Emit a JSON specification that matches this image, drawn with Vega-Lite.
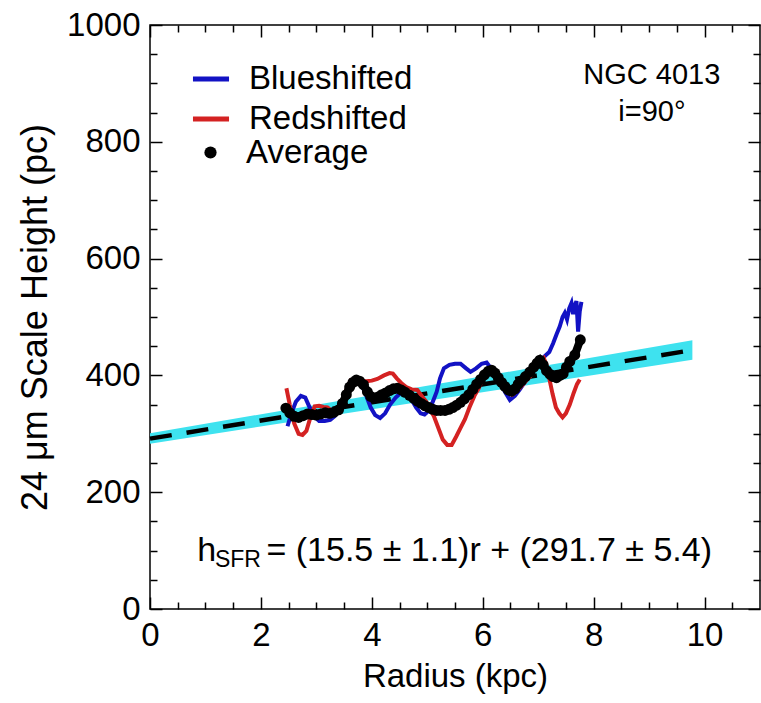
{
  "$schema": "https://vega.github.io/schema/vega-lite/v6.json",
  "width": 610,
  "height": 584,
  "autosize": "none",
  "padding": {"left": 150, "top": 25, "right": 1, "bottom": 94},
  "background": "white",
  "config": {
    "view": {"stroke": "black", "strokeWidth": 1.5},
    "font": "Liberation Sans",
    "axis": {"grid": false}
  },
  "datasets": {
    "fit": [
      {"r": 0, "h": 291.7, "lo": 283, "hi": 301},
      {"r": 9.78, "h": 443.3, "lo": 427, "hi": 460}
    ],
    "curves": [
      {"series": "Blueshifted", "r": 2.48, "h": 313}, {"series": "Blueshifted", "r": 2.55, "h": 335}, {"series": "Blueshifted", "r": 2.63, "h": 355}, {"series": "Blueshifted", "r": 2.72, "h": 365}, {"series": "Blueshifted", "r": 2.80, "h": 362}, {"series": "Blueshifted", "r": 2.88, "h": 345}, {"series": "Blueshifted", "r": 2.96, "h": 330}, {"series": "Blueshifted", "r": 3.05, "h": 322}, {"series": "Blueshifted", "r": 3.15, "h": 322}, {"series": "Blueshifted", "r": 3.25, "h": 324}, {"series": "Blueshifted", "r": 3.33, "h": 330}, {"series": "Blueshifted", "r": 3.42, "h": 345}, {"series": "Blueshifted", "r": 3.50, "h": 362}, {"series": "Blueshifted", "r": 3.58, "h": 378}, {"series": "Blueshifted", "r": 3.66, "h": 390}, {"series": "Blueshifted", "r": 3.74, "h": 392}, {"series": "Blueshifted", "r": 3.82, "h": 383}, {"series": "Blueshifted", "r": 3.90, "h": 365}, {"series": "Blueshifted", "r": 3.98, "h": 345}, {"series": "Blueshifted", "r": 4.06, "h": 332}, {"series": "Blueshifted", "r": 4.15, "h": 327}, {"series": "Blueshifted", "r": 4.24, "h": 335}, {"series": "Blueshifted", "r": 4.33, "h": 350}, {"series": "Blueshifted", "r": 4.43, "h": 362}, {"series": "Blueshifted", "r": 4.52, "h": 370}, {"series": "Blueshifted", "r": 4.62, "h": 368}, {"series": "Blueshifted", "r": 4.72, "h": 358}, {"series": "Blueshifted", "r": 4.80, "h": 345}, {"series": "Blueshifted", "r": 4.88, "h": 335}, {"series": "Blueshifted", "r": 4.95, "h": 333}, {"series": "Blueshifted", "r": 5.03, "h": 340}, {"series": "Blueshifted", "r": 5.10, "h": 355}, {"series": "Blueshifted", "r": 5.17, "h": 372}, {"series": "Blueshifted", "r": 5.23, "h": 395}, {"series": "Blueshifted", "r": 5.30, "h": 412}, {"series": "Blueshifted", "r": 5.40, "h": 418}, {"series": "Blueshifted", "r": 5.50, "h": 420}, {"series": "Blueshifted", "r": 5.60, "h": 420}, {"series": "Blueshifted", "r": 5.70, "h": 412}, {"series": "Blueshifted", "r": 5.78, "h": 406}, {"series": "Blueshifted", "r": 5.88, "h": 412}, {"series": "Blueshifted", "r": 5.98, "h": 420}, {"series": "Blueshifted", "r": 6.07, "h": 422}, {"series": "Blueshifted", "r": 6.15, "h": 412}, {"series": "Blueshifted", "r": 6.23, "h": 400}, {"series": "Blueshifted", "r": 6.31, "h": 390}, {"series": "Blueshifted", "r": 6.40, "h": 372}, {"series": "Blueshifted", "r": 6.49, "h": 358}, {"series": "Blueshifted", "r": 6.58, "h": 365}, {"series": "Blueshifted", "r": 6.67, "h": 376}, {"series": "Blueshifted", "r": 6.77, "h": 390}, {"series": "Blueshifted", "r": 6.86, "h": 402}, {"series": "Blueshifted", "r": 6.96, "h": 412}, {"series": "Blueshifted", "r": 7.05, "h": 425}, {"series": "Blueshifted", "r": 7.12, "h": 433}, {"series": "Blueshifted", "r": 7.20, "h": 440}, {"series": "Blueshifted", "r": 7.27, "h": 455}, {"series": "Blueshifted", "r": 7.33, "h": 470}, {"series": "Blueshifted", "r": 7.39, "h": 484}, {"series": "Blueshifted", "r": 7.44, "h": 500}, {"series": "Blueshifted", "r": 7.48, "h": 507}, {"series": "Blueshifted", "r": 7.52, "h": 496}, {"series": "Blueshifted", "r": 7.56, "h": 515}, {"series": "Blueshifted", "r": 7.60, "h": 524}, {"series": "Blueshifted", "r": 7.63, "h": 505}, {"series": "Blueshifted", "r": 7.66, "h": 520}, {"series": "Blueshifted", "r": 7.69, "h": 527}, {"series": "Blueshifted", "r": 7.72, "h": 475}, {"series": "Blueshifted", "r": 7.75, "h": 510}, {"series": "Blueshifted", "r": 7.78, "h": 526},
      {"series": "Redshifted", "r": 2.46, "h": 378}, {"series": "Redshifted", "r": 2.52, "h": 350}, {"series": "Redshifted", "r": 2.60, "h": 318}, {"series": "Redshifted", "r": 2.68, "h": 300}, {"series": "Redshifted", "r": 2.75, "h": 298}, {"series": "Redshifted", "r": 2.82, "h": 305}, {"series": "Redshifted", "r": 2.90, "h": 330}, {"series": "Redshifted", "r": 2.97, "h": 347}, {"series": "Redshifted", "r": 3.05, "h": 348}, {"series": "Redshifted", "r": 3.13, "h": 346}, {"series": "Redshifted", "r": 3.20, "h": 345}, {"series": "Redshifted", "r": 3.30, "h": 338}, {"series": "Redshifted", "r": 3.39, "h": 338}, {"series": "Redshifted", "r": 3.47, "h": 358}, {"series": "Redshifted", "r": 3.55, "h": 378}, {"series": "Redshifted", "r": 3.62, "h": 392}, {"series": "Redshifted", "r": 3.68, "h": 394}, {"series": "Redshifted", "r": 3.78, "h": 391}, {"series": "Redshifted", "r": 3.90, "h": 390}, {"series": "Redshifted", "r": 4.00, "h": 391}, {"series": "Redshifted", "r": 4.10, "h": 394}, {"series": "Redshifted", "r": 4.22, "h": 400}, {"series": "Redshifted", "r": 4.32, "h": 404}, {"series": "Redshifted", "r": 4.38, "h": 403}, {"series": "Redshifted", "r": 4.45, "h": 395}, {"series": "Redshifted", "r": 4.53, "h": 387}, {"series": "Redshifted", "r": 4.62, "h": 380}, {"series": "Redshifted", "r": 4.72, "h": 376}, {"series": "Redshifted", "r": 4.82, "h": 375}, {"series": "Redshifted", "r": 4.90, "h": 365}, {"series": "Redshifted", "r": 4.98, "h": 355}, {"series": "Redshifted", "r": 5.05, "h": 342}, {"series": "Redshifted", "r": 5.12, "h": 330}, {"series": "Redshifted", "r": 5.20, "h": 310}, {"series": "Redshifted", "r": 5.28, "h": 290}, {"series": "Redshifted", "r": 5.36, "h": 281}, {"series": "Redshifted", "r": 5.44, "h": 281}, {"series": "Redshifted", "r": 5.52, "h": 295}, {"series": "Redshifted", "r": 5.60, "h": 310}, {"series": "Redshifted", "r": 5.68, "h": 325}, {"series": "Redshifted", "r": 5.76, "h": 345}, {"series": "Redshifted", "r": 5.85, "h": 365}, {"series": "Redshifted", "r": 5.93, "h": 378}, {"series": "Redshifted", "r": 6.00, "h": 395}, {"series": "Redshifted", "r": 6.08, "h": 404}, {"series": "Redshifted", "r": 6.15, "h": 402}, {"series": "Redshifted", "r": 6.22, "h": 398}, {"series": "Redshifted", "r": 6.30, "h": 393}, {"series": "Redshifted", "r": 6.38, "h": 382}, {"series": "Redshifted", "r": 6.46, "h": 370}, {"series": "Redshifted", "r": 6.53, "h": 367}, {"series": "Redshifted", "r": 6.60, "h": 372}, {"series": "Redshifted", "r": 6.68, "h": 380}, {"series": "Redshifted", "r": 6.75, "h": 387}, {"series": "Redshifted", "r": 6.85, "h": 398}, {"series": "Redshifted", "r": 6.95, "h": 413}, {"series": "Redshifted", "r": 7.03, "h": 425}, {"series": "Redshifted", "r": 7.10, "h": 430}, {"series": "Redshifted", "r": 7.15, "h": 418}, {"series": "Redshifted", "r": 7.20, "h": 395}, {"series": "Redshifted", "r": 7.26, "h": 368}, {"series": "Redshifted", "r": 7.32, "h": 345}, {"series": "Redshifted", "r": 7.38, "h": 335}, {"series": "Redshifted", "r": 7.44, "h": 328}, {"series": "Redshifted", "r": 7.50, "h": 335}, {"series": "Redshifted", "r": 7.57, "h": 350}, {"series": "Redshifted", "r": 7.64, "h": 370}, {"series": "Redshifted", "r": 7.70, "h": 385}, {"series": "Redshifted", "r": 7.75, "h": 393}
    ],
    "avg": [
      {"series": "Average", "r": 2.45, "h": 344}, {"series": "Average", "r": 2.52, "h": 336}, {"series": "Average", "r": 2.60, "h": 330}, {"series": "Average", "r": 2.68, "h": 328}, {"series": "Average", "r": 2.76, "h": 331}, {"series": "Average", "r": 2.84, "h": 334}, {"series": "Average", "r": 2.92, "h": 333}, {"series": "Average", "r": 3.00, "h": 332}, {"series": "Average", "r": 3.08, "h": 334}, {"series": "Average", "r": 3.16, "h": 336}, {"series": "Average", "r": 3.24, "h": 335}, {"series": "Average", "r": 3.32, "h": 337}, {"series": "Average", "r": 3.40, "h": 341}, {"series": "Average", "r": 3.47, "h": 352}, {"series": "Average", "r": 3.54, "h": 367}, {"series": "Average", "r": 3.60, "h": 380}, {"series": "Average", "r": 3.66, "h": 388}, {"series": "Average", "r": 3.72, "h": 392}, {"series": "Average", "r": 3.78, "h": 390}, {"series": "Average", "r": 3.85, "h": 384}, {"series": "Average", "r": 3.92, "h": 372}, {"series": "Average", "r": 3.98, "h": 364}, {"series": "Average", "r": 4.04, "h": 361}, {"series": "Average", "r": 4.11, "h": 363}, {"series": "Average", "r": 4.18, "h": 367}, {"series": "Average", "r": 4.25, "h": 370}, {"series": "Average", "r": 4.32, "h": 374}, {"series": "Average", "r": 4.39, "h": 377}, {"series": "Average", "r": 4.46, "h": 378}, {"series": "Average", "r": 4.53, "h": 375}, {"series": "Average", "r": 4.60, "h": 371}, {"series": "Average", "r": 4.68, "h": 366}, {"series": "Average", "r": 4.75, "h": 361}, {"series": "Average", "r": 4.82, "h": 356}, {"series": "Average", "r": 4.89, "h": 352}, {"series": "Average", "r": 4.96, "h": 348}, {"series": "Average", "r": 5.03, "h": 345}, {"series": "Average", "r": 5.10, "h": 342}, {"series": "Average", "r": 5.17, "h": 340}, {"series": "Average", "r": 5.24, "h": 340}, {"series": "Average", "r": 5.32, "h": 340}, {"series": "Average", "r": 5.39, "h": 342}, {"series": "Average", "r": 5.46, "h": 345}, {"series": "Average", "r": 5.53, "h": 349}, {"series": "Average", "r": 5.60, "h": 354}, {"series": "Average", "r": 5.67, "h": 360}, {"series": "Average", "r": 5.75, "h": 367}, {"series": "Average", "r": 5.82, "h": 376}, {"series": "Average", "r": 5.89, "h": 385}, {"series": "Average", "r": 5.96, "h": 393}, {"series": "Average", "r": 6.03, "h": 401}, {"series": "Average", "r": 6.10, "h": 407}, {"series": "Average", "r": 6.16, "h": 409}, {"series": "Average", "r": 6.22, "h": 404}, {"series": "Average", "r": 6.28, "h": 396}, {"series": "Average", "r": 6.34, "h": 388}, {"series": "Average", "r": 6.40, "h": 381}, {"series": "Average", "r": 6.46, "h": 375}, {"series": "Average", "r": 6.52, "h": 373}, {"series": "Average", "r": 6.58, "h": 377}, {"series": "Average", "r": 6.64, "h": 385}, {"series": "Average", "r": 6.70, "h": 391}, {"series": "Average", "r": 6.77, "h": 398}, {"series": "Average", "r": 6.85, "h": 406}, {"series": "Average", "r": 6.92, "h": 414}, {"series": "Average", "r": 6.98, "h": 421}, {"series": "Average", "r": 7.03, "h": 426}, {"series": "Average", "r": 7.09, "h": 418}, {"series": "Average", "r": 7.15, "h": 408}, {"series": "Average", "r": 7.21, "h": 402}, {"series": "Average", "r": 7.27, "h": 398}, {"series": "Average", "r": 7.33, "h": 396}, {"series": "Average", "r": 7.39, "h": 400}, {"series": "Average", "r": 7.45, "h": 403}, {"series": "Average", "r": 7.51, "h": 414}, {"series": "Average", "r": 7.57, "h": 424}, {"series": "Average", "r": 7.66, "h": 435}, {"series": "Average", "r": 7.76, "h": 461}
    ],
    "labelsCenter": [
      {"text": "NGC 4013", "r": 9.05, "h": 915},
      {"text": "i=90°", "r": 9.05, "h": 851}
    ],
    "labelsLeft": [
      {"text": "h", "r": 0.85, "h": 100},
      {"text": "= (15.5 ± 1.1)r + (291.7 ± 5.4)", "r": 2.1, "h": 100}
    ],
    "labelsSub": [
      {"text": "SFR", "r": 1.17, "h": 84}
    ]
  },
  "layer": [
    {
      "data": {"name": "fit"},
      "mark": {"type": "area", "color": "#3ee2ef", "opacity": 1},
      "encoding": {
        "x": {"field": "r", "type": "quantitative", "scale": {"domain": [0, 11], "nice": false, "zero": false},
          "axis": {"orient": "bottom", "values": [0, 2, 4, 6, 8, 10], "format": "d", "ticks": false, "domain": false, "grid": false, "labelFontSize": 33, "labelFont": "Liberation Sans", "labelColor": "black", "labelPadding": 10, "labelFlush": false, "labelOverlap": false, "title": "Radius (kpc)", "titleFontSize": 33, "titleFont": "Liberation Sans", "titleFontWeight": "normal", "titleColor": "black", "titlePadding": 8}},
        "y": {"field": "lo", "type": "quantitative", "scale": {"domain": [0, 1000], "nice": false, "zero": false},
          "axis": {"orient": "left", "values": [0, 200, 400, 600, 800, 1000], "format": "d", "ticks": false, "domain": false, "grid": false, "labelFontSize": 33, "labelFont": "Liberation Sans", "labelColor": "black", "labelPadding": 10, "labelFlush": false, "labelOverlap": false, "title": "24 μm Scale Height (pc)", "titleFontSize": 36, "titleFont": "Liberation Sans", "titleFontWeight": "normal", "titleColor": "black", "titlePadding": 12}},
        "y2": {"field": "hi"}
      }
    },
    {
      "data": {"name": "fit"},
      "mark": {"type": "line", "color": "black", "strokeWidth": 4.5, "strokeDash": [22, 15]},
      "encoding": {
        "x": {"field": "r", "type": "quantitative",
          "axis": {"orient": "bottom", "values": [0, 2, 4, 6, 8, 10], "labels": false, "domain": false, "grid": false, "ticks": true, "tickSize": -12, "tickWidth": 1.5, "tickColor": "black", "title": null}},
        "y": {"field": "h", "type": "quantitative",
          "axis": {"orient": "left", "values": [0, 200, 400, 600, 800, 1000], "labels": false, "domain": false, "grid": false, "ticks": true, "tickSize": -12, "tickWidth": 1.5, "tickColor": "black", "title": null}}
      }
    },
    {
      "data": {"name": "curves"},
      "mark": {"type": "line", "strokeWidth": 4},
      "encoding": {
        "x": {"field": "r", "type": "quantitative",
          "axis": {"orient": "bottom", "values": [0.5, 1, 1.5, 2.5, 3, 3.5, 4.5, 5, 5.5, 6.5, 7, 7.5, 8.5, 9, 9.5, 10.5], "labels": false, "domain": false, "grid": false, "ticks": true, "tickSize": -7, "tickWidth": 1.5, "tickColor": "black", "title": null}},
        "y": {"field": "h", "type": "quantitative",
          "axis": {"orient": "left", "values": [50, 100, 150, 250, 300, 350, 450, 500, 550, 650, 700, 750, 850, 900, 950], "labels": false, "domain": false, "grid": false, "ticks": true, "tickSize": -7, "tickWidth": 1.5, "tickColor": "black", "title": null}},
        "color": {"field": "series", "type": "nominal",
          "scale": {"domain": ["Blueshifted", "Redshifted"], "range": ["#1212c4", "#d42222"]},
          "legend": {"orient": "none", "legendX": 40, "legendY": 33, "title": null, "padding": 0, "symbolType": "stroke", "symbolSize": 1300, "symbolStrokeWidth": 5, "labelFontSize": 33, "labelFont": "Liberation Sans", "labelColor": "black", "labelOffset": 17, "labelLimit": 400, "rowPadding": 2}}
      }
    },
    {
      "data": {"name": "avg"},
      "mark": {"type": "line", "color": "black", "strokeWidth": 8},
      "encoding": {
        "x": {"field": "r", "type": "quantitative", "axis": null},
        "y": {"field": "h", "type": "quantitative", "axis": null}
      }
    },
    {
      "data": {"name": "avg"},
      "mark": {"type": "point", "filled": true, "color": "black", "size": 120, "opacity": 1},
      "encoding": {
        "x": {"field": "r", "type": "quantitative",
          "axis": {"orient": "top", "values": [0, 2, 4, 6, 8, 10], "labels": false, "domain": false, "grid": false, "ticks": true, "tickSize": -12, "tickWidth": 1.5, "tickColor": "black", "title": null}},
        "y": {"field": "h", "type": "quantitative",
          "axis": {"orient": "right", "values": [0, 200, 400, 600, 800, 1000], "labels": false, "domain": false, "grid": false, "ticks": true, "tickSize": -12, "tickWidth": 1.5, "tickColor": "black", "title": null}},
        "shape": {"field": "series", "type": "nominal",
          "scale": {"domain": ["Average"], "range": ["circle"]},
          "legend": {"orient": "none", "legendX": 44, "legendY": 111, "title": null, "padding": 0, "symbolSize": 150, "symbolFillColor": "black", "symbolStrokeWidth": 0, "labelFontSize": 33, "labelFont": "Liberation Sans", "labelColor": "black", "labelOffset": 19, "labelLimit": 400}}
      }
    },
    {
      "data": {"name": "labelsCenter"},
      "mark": {"type": "text", "font": "Liberation Sans", "fontSize": 29, "align": "center", "baseline": "middle", "color": "black"},
      "encoding": {
        "x": {"field": "r", "type": "quantitative",
          "axis": {"orient": "top", "values": [0.5, 1, 1.5, 2.5, 3, 3.5, 4.5, 5, 5.5, 6.5, 7, 7.5, 8.5, 9, 9.5, 10.5], "labels": false, "domain": false, "grid": false, "ticks": true, "tickSize": -7, "tickWidth": 1.5, "tickColor": "black", "title": null}},
        "y": {"field": "h", "type": "quantitative",
          "axis": {"orient": "right", "values": [50, 100, 150, 250, 300, 350, 450, 500, 550, 650, 700, 750, 850, 900, 950], "labels": false, "domain": false, "grid": false, "ticks": true, "tickSize": -7, "tickWidth": 1.5, "tickColor": "black", "title": null}},
        "text": {"field": "text"}
      }
    },
    {
      "data": {"name": "labelsLeft"},
      "mark": {"type": "text", "font": "Liberation Sans", "fontSize": 34, "align": "left", "baseline": "middle", "color": "black"},
      "encoding": {
        "x": {"field": "r", "type": "quantitative", "axis": null},
        "y": {"field": "h", "type": "quantitative", "axis": null},
        "text": {"field": "text"}
      }
    },
    {
      "data": {"name": "labelsSub"},
      "mark": {"type": "text", "font": "Liberation Sans", "fontSize": 23, "align": "left", "baseline": "middle", "color": "black"},
      "encoding": {
        "x": {"field": "r", "type": "quantitative", "axis": null},
        "y": {"field": "h", "type": "quantitative", "axis": null},
        "text": {"field": "text"}
      }
    }
  ],
  "resolve": {"axis": {"x": "independent", "y": "independent"}}
}
